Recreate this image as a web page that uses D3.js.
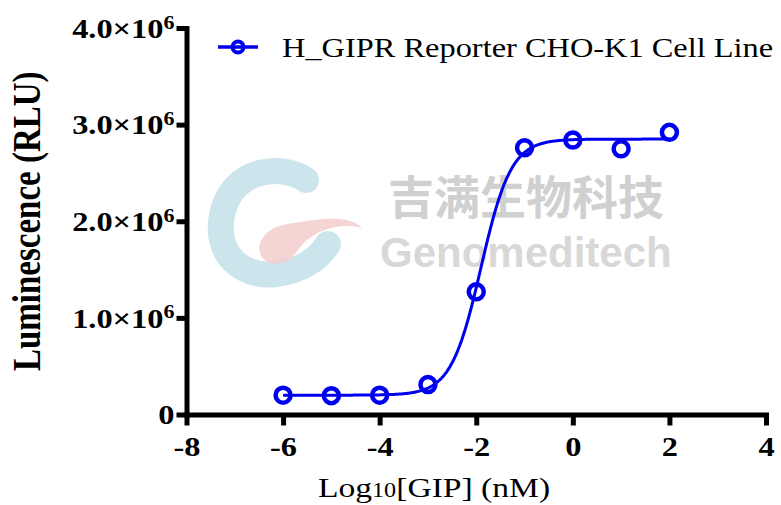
<!DOCTYPE html>
<html>
<head>
<meta charset="utf-8">
<script src="https://cdn.jsdelivr.net/npm/d3@7"></script>
<style>
body { margin: 0; background: #fff; }
svg { display: block; }
</style>
</head>
<body>
<script>
// GIP dose response on the H_GIPR reporter line
var logDose = [-6, -5, -4, -3, -2, -1, 0, 1, 2];
var rlu = [200000, 195000, 200000, 310000, 1270000, 2760000, 2840000, 2750000, 2920000];
var xTicks = [-8, -6, -4, -2, 0, 2, 4];
var yTicks = [0, 1e6, 2e6, 3e6, 4e6];
var yTickMant = ['0', '1.0', '2.0', '3.0', '4.0'];
var seriesName = 'H_GIPR Reporter CHO-K1 Cell Line';
// 4PL fit, parameters
var fitBottom = 200000, fitTop = 2850000, fitLogEC50 = -1.9, fitHill = 1.4;

var W = 781, H = 505;
var margin = {top: 28, right: 15, bottom: 90.5, left: 186.5};
var SX = 1.2; // text in the picture is stretched sideways
var blue = '#0000f0';
var serif = '"Liberation Serif", "Times New Roman", serif';

var svg = d3.select('body').append('svg')
  .attr('width', W)
  .attr('height', H);

var x = d3.scaleLinear().domain([-8, 4]).range([margin.left, W - margin.right]);
var y = d3.scaleLinear().domain([0, 4e6]).range([H - margin.bottom, margin.top]);

// watermark (logo + company name), sits behind everything
var wm = svg.append('g').attr('class', 'watermark');
wm.append('path')
  .attr('d', 'M306,180 C284,164 232,166 222,215 C214,256 244,278 276,274 C300,271 318,260 328,244')
  .attr('fill', 'none')
  .attr('stroke', '#c3e1ea')
  .attr('stroke-width', 26)
  .attr('stroke-linecap', 'round')
  .attr('opacity', 0.85);
wm.append('path')
  .attr('d', 'M268,262 C252,255 258,228 288,224 C318,219 348,214 362,228 C340,222 312,230 298,250 C290,262 280,266 268,262 Z')
  .attr('fill', '#f3cccc')
  .attr('opacity', 0.85);
wm.append('text')
  .attr('x', 388).attr('y', 214)
  .attr('font-family', '"Noto Sans CJK SC", sans-serif')
  .attr('font-weight', 700)
  .attr('font-size', 46)
  .attr('fill', '#d0d0d0')
  .text('吉满生物科技');
wm.append('text')
  .attr('x', 380).attr('y', 267)
  .attr('font-family', '"Liberation Sans", Arial, sans-serif')
  .attr('font-weight', 700)
  .attr('font-size', 42)
  .attr('fill', '#d8d8d8')
  .text('Genomeditech');

// axes
var xAxis = d3.axisBottom(x)
  .tickValues(xTicks)
  .tickSize(11)
  .tickSizeOuter(0)
  .tickPadding(11)
  .tickFormat(function(d) { return String(d); });

var gx = svg.append('g')
  .attr('transform', 'translate(0,' + y(0) + ')')
  .call(xAxis);

var yAxis = d3.axisLeft(y)
  .tickValues(yTicks)
  .tickSize(10)
  .tickSizeOuter(0)
  .tickFormat('');

var gy = svg.append('g')
  .attr('transform', 'translate(' + x(-8) + ',0)')
  .call(yAxis);

svg.selectAll('.domain')
  .attr('stroke', '#000')
  .attr('stroke-width', 5)
  .attr('stroke-linecap', 'square');
svg.selectAll('.tick line')
  .attr('stroke', '#000')
  .attr('stroke-width', 5);

gx.selectAll('.tick text')
  .attr('fill', '#000')
  .attr('font-family', serif)
  .attr('font-weight', 700)
  .attr('font-size', 27)
  .attr('transform', 'scale(' + SX + ',1)');

gy.selectAll('.tick').each(function(d, i) {
  var t = d3.select(this).append('text')
    .attr('transform', 'translate(-12,0) scale(' + SX + ',1)')
    .attr('dy', '0.34em')
    .attr('text-anchor', 'end')
    .attr('fill', '#000')
    .attr('font-family', serif)
    .attr('font-weight', 700)
    .attr('font-size', 27);
  if (d === 0) {
    t.text(yTickMant[i]);
  } else {
    t.append('tspan').text(yTickMant[i] + '\u00d710');
    t.append('tspan').attr('font-size', '0.68em').attr('dy', '-0.5em').text('6');
  }
});

// axis titles
svg.append('text')
  .attr('transform', 'translate(40,' + ((y(0) + y(4e6)) / 2) + ') scale(' + SX + ',1) rotate(-90)')
  .attr('text-anchor', 'middle')
  .attr('font-family', serif)
  .attr('font-weight', 700)
  .attr('font-size', 33)
  .text('Luminescence (RLU)');

var xt = svg.append('text')
  .attr('transform', 'translate(434,497) scale(' + SX + ',1)')
  .attr('text-anchor', 'middle')
  .attr('font-family', serif)
  .attr('font-size', 28);
xt.append('tspan').text('Log');
xt.append('tspan').attr('font-size', '0.72em').text('10');
xt.append('tspan').text('[GIP] (nM)');

// fitted curve
var fit = function(v) {
  return fitBottom + (fitTop - fitBottom) / (1 + Math.pow(10, (fitLogEC50 - v) * fitHill));
};
var curveX = d3.range(logDose[0], logDose[logDose.length - 1] + 0.001, 0.02);
var line = d3.line()
  .x(function(d) { return x(d); })
  .y(function(d) { return y(fit(d)); });

svg.append('path')
  .datum(curveX)
  .attr('d', line)
  .attr('fill', 'none')
  .attr('stroke', blue)
  .attr('stroke-width', 3);

svg.selectAll('circle.pt')
  .data(logDose)
  .enter()
  .append('circle')
    .attr('class', 'pt')
    .attr('cx', function(d) { return x(d); })
    .attr('cy', function(d, i) { return y(rlu[i]); })
    .attr('r', 7.5)
    .attr('fill', 'none')
    .attr('stroke', blue)
    .attr('stroke-width', 4.5);

// legend
var lg = svg.append('g').attr('transform', 'translate(218,47)');
lg.append('line')
  .attr('x1', 0).attr('x2', 40)
  .attr('stroke', blue)
  .attr('stroke-width', 3.5);
lg.append('circle')
  .attr('cx', 20)
  .attr('r', 5.5)
  .attr('fill', 'none')
  .attr('stroke', blue)
  .attr('stroke-width', 4);
lg.append('text')
  .attr('transform', 'translate(64,10) scale(' + SX + ',1)')
  .attr('font-family', serif)
  .attr('font-size', 27)
  .text(seriesName);
</script>
</body>
</html>
